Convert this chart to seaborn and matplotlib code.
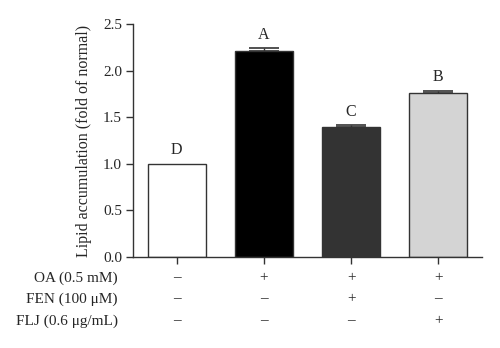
import matplotlib
matplotlib.use("Agg")
import matplotlib.pyplot as plt
import seaborn as sns
import pandas as pd
import numpy as np

groups = ["Normal", "OA", "OA+FEN", "OA+FLJ"]
values = [1.00, 2.21, 1.40, 1.765]
errors = [0.0, 0.03, 0.012, 0.02]
letters = ["D", "A", "C", "B"]
colors = ["#ffffff", "#000000", "#333333", "#d4d4d4"]
row_labels = ["OA (0.5 mM)", "FEN (100 \u03bcM)", "FLJ (0.6 \u03bcg/mL)"]
row_signs = [["\u2013", "+", "+", "+"],
             ["\u2013", "\u2013", "+", "\u2013"],
             ["\u2013", "\u2013", "\u2013", "+"]]
yticks = [0.0, 0.5, 1.0, 1.5, 2.0, 2.5]

sns.set_theme(style="ticks")
plt.rcParams['font.family'] = ['Liberation Serif', 'DejaVu Serif']

fig = plt.figure(figsize=(5.0, 3.48), dpi=100)
ax = fig.add_axes([0.266, 0.2615, 0.698, 0.6695])

df = pd.DataFrame({"group": groups, "value": values})
sns.barplot(data=df, x="group", y="value", hue="group", palette=colors,
            order=groups, hue_order=groups, legend=False, width=0.665,
            edgecolor="#333333", linewidth=1.0, ax=ax, errorbar=None)

x = np.arange(len(groups))
mask = np.array(errors) > 0
ax.errorbar(x[mask], np.array(values)[mask],
            yerr=[np.zeros(mask.sum()), np.array(errors)[mask]], fmt="none",
            ecolor="#333333", elinewidth=1.0, capsize=11, capthick=1.2)

for xi, v, e, l in zip(x, values, errors, letters):
    ax.text(xi, v + e + 0.06, l, ha="center", va="bottom", fontsize=11.5)

ax.set_xlim(-0.5, 3.5)
ax.set_ylim(0, 2.5)
ax.set_yticks(yticks)
ax.set_yticklabels([f"{t:.1f}" for t in yticks], fontsize=11)
ax.set_xticks(x)
ax.set_xticklabels([])
ax.set_xlabel("")
ax.set_ylabel("Lipid accumulation (fold of normal)", fontsize=11.5, labelpad=8)
ax.tick_params(axis="both", direction="out", length=5, width=1, color="#333333", pad=3)
for s in ["top", "right"]:
    ax.spines[s].set_visible(False)
for s in ["left", "bottom"]:
    ax.spines[s].set_color("#333333")
    ax.spines[s].set_linewidth(1.0)

row_y = [278, 299, 321]
for ry, lab, signs in zip(row_y, row_labels, row_signs):
    yf = 1 - ry / 348
    fig.text(118 / 500, yf, lab, ha="right", va="center", fontsize=11)
    for xi, s in zip(x, signs):
        xd = ax.transData.transform((xi, 0))[0]
        xf = fig.transFigure.inverted().transform((xd, 0))[0]
        fig.text(xf, yf, s, ha="center", va="center", fontsize=11)

fig.savefig("out.png", dpi=100)
